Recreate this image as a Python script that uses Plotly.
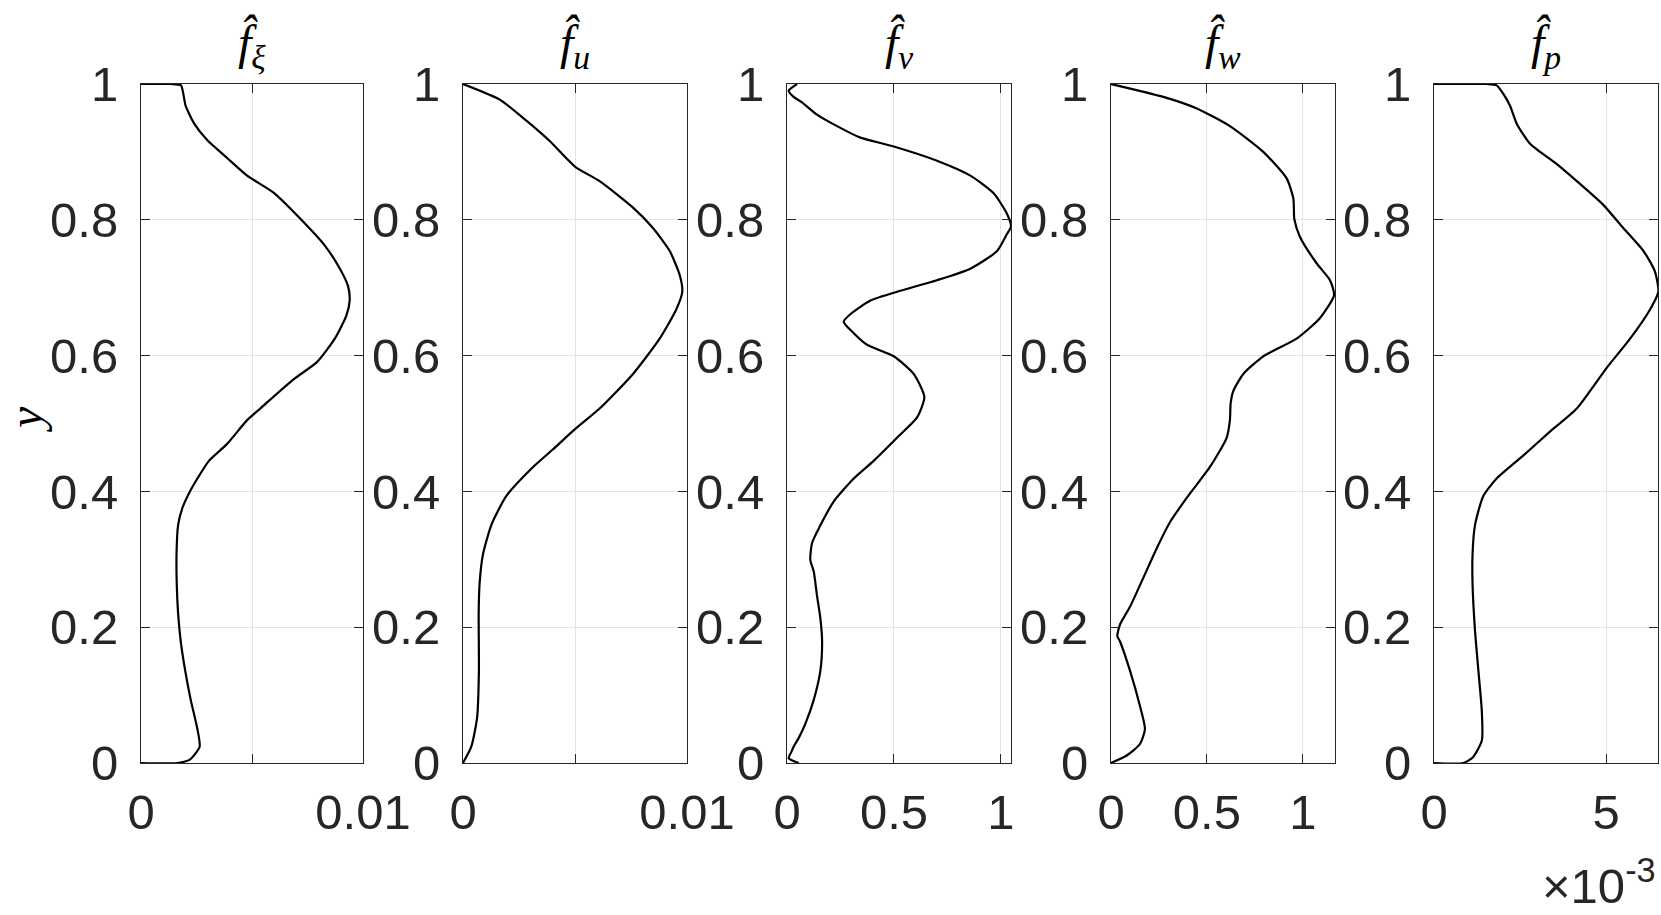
import plotly.graph_objects as go

# profiles, y from 0 (wall) to 1
y_xi = [0, 0, 0.005, 0.024, 0.05, 0.093, 0.136, 0.179, 0.221, 0.264, 0.307, 0.35, 0.376, 0.402, 0.419,
        0.445, 0.47, 0.505, 0.522, 0.565, 0.59, 0.625, 0.659, 0.681, 0.702, 0.728, 0.762, 0.797, 0.84,
        0.865, 0.891, 0.917, 0.942, 0.968, 0.985, 0.998, 1.0, 1.0]
f_xi = [0, 0.00164, 0.0022, 0.00264, 0.00254, 0.00224, 0.00199, 0.00179, 0.00167, 0.00161, 0.0016,
        0.00167, 0.00187, 0.00224, 0.00254, 0.00306, 0.00388, 0.00478, 0.00537, 0.00687, 0.00791,
        0.00873, 0.00925, 0.0094, 0.00933, 0.00896, 0.00828, 0.00731, 0.00597, 0.00478, 0.00388,
        0.00299, 0.00239, 0.00201, 0.00191, 0.0018, 0.00134, 0]

y_u = [0, 0.024, 0.067, 0.136, 0.221, 0.264, 0.307, 0.35, 0.393, 0.436, 0.462, 0.492, 0.522, 0.573,
       0.625, 0.668, 0.694, 0.719, 0.754, 0.788, 0.818, 0.857, 0.878, 0.916, 0.946, 0.977, 1.0]
f_u = [0, 0.00037, 0.00063, 0.00071, 0.0007, 0.00074, 0.00089, 0.00126, 0.00193, 0.00313, 0.00402,
       0.00501, 0.0061, 0.00759, 0.00878, 0.00952, 0.00979, 0.00967, 0.00923, 0.00848, 0.00759,
       0.0061, 0.00501, 0.00387, 0.00283, 0.00164, 0]

y_v = [0, 0.007, 0.016, 0.024, 0.037, 0.058, 0.093, 0.136, 0.179, 0.213, 0.247, 0.282, 0.299, 0.324,
       0.35, 0.385, 0.419, 0.445, 0.479, 0.509, 0.539, 0.573, 0.599, 0.616, 0.633, 0.65, 0.663, 0.681,
       0.694, 0.711, 0.728, 0.754, 0.779, 0.79, 0.809, 0.839, 0.865, 0.887, 0.908, 0.921, 0.938,
       0.955, 0.973, 0.981, 0.99, 1.0]
f_v = [0.055, 0.008, 0.02, 0.031, 0.055, 0.086, 0.125, 0.156, 0.164, 0.156, 0.14, 0.125, 0.109, 0.117,
       0.156, 0.218, 0.312, 0.405, 0.514, 0.608, 0.642, 0.592, 0.499, 0.374, 0.312, 0.265, 0.304, 0.39,
       0.514, 0.701, 0.857, 0.982, 1.028, 1.047, 1.028, 0.966, 0.857, 0.701, 0.499, 0.343, 0.234,
       0.14, 0.07, 0.031, 0.008, 0.047]

y_w = [0, 0.011, 0.028, 0.05, 0.084, 0.136, 0.179, 0.187, 0.204, 0.23, 0.273, 0.316, 0.355, 0.397,
       0.436, 0.479, 0.505, 0.53, 0.548, 0.573, 0.599, 0.625, 0.655, 0.689, 0.711, 0.736, 0.775,
       0.801, 0.831, 0.861, 0.9, 0.938, 0.964, 0.981, 1.0]
f_w = [0, 0.082, 0.151, 0.177, 0.151, 0.099, 0.047, 0.033, 0.047, 0.099, 0.169, 0.238, 0.308, 0.412,
       0.516, 0.603, 0.62, 0.624, 0.638, 0.69, 0.794, 0.968, 1.089, 1.163, 1.142, 1.072, 0.985,
       0.956, 0.951, 0.916, 0.794, 0.62, 0.447, 0.273, 0]

# f_p in units of 1e-3
y_p = [0, 0, 0.009, 0.033, 0.076, 0.136, 0.196, 0.264, 0.307, 0.35, 0.393, 0.419, 0.453, 0.488, 0.522,
       0.582, 0.625, 0.668, 0.694, 0.724, 0.754, 0.788, 0.822, 0.857, 0.882, 0.912, 0.942, 0.968,
       0.985, 0.998, 1.0, 1.0]
f_p = [0, 0.853, 1.14, 1.39, 1.39, 1.29, 1.19, 1.12, 1.12, 1.19, 1.43, 1.82, 2.6, 3.37, 4.15, 5.02,
       5.7, 6.28, 6.52, 6.42, 6.09, 5.5, 4.92, 4.15, 3.57, 2.79, 2.4, 2.21, 2.02, 1.82, 1.53, 0]

titles = ["ξ", "u", "v", "w", "p"]
xranges = [[0, 0.01], [0, 0.01], [0, 1.047], [0, 1.168], [0, 6.51]]
xticks = [[0, 0.005, 0.01], [0, 0.005, 0.01], [0, 0.5, 1], [0, 0.5, 1], [0, 5]]
xticklabels = [["0", "", "0.01"], ["0", "", "0.01"], ["0", "0.5", "1"], ["0", "0.5", "1"], ["0", "5"]]
yticks = [0, 0.2, 0.4, 0.6, 0.8, 1]
ytext = ["0", "0.2", "0.4", "0.6", "0.8", "1"]

W, H = 1661, 915
xdoms = [(141, 363), (463, 687), (787, 1011), (1111, 1335), (1434, 1658)]
ydom = [(915 - 763) / H, (915 - 84) / H]

axcol = "#262626"
tickfont = dict(family="Liberation Sans, Arial, sans-serif", size=49, color=axcol)
mathfont = dict(family="Liberation Serif, Times New Roman, serif", size=48, color="black")

fig = go.Figure()
series = [(f_xi, y_xi), (f_u, y_u), (f_v, y_v), (f_w, y_w), (f_p, y_p)]
for i, (fx, fy) in enumerate(series):
    n = "" if i == 0 else str(i + 1)
    fig.add_trace(go.Scatter(x=fx, y=fy, mode="lines", xaxis="x" + n, yaxis="y" + n,
                             line=dict(color="black", width=2.2, shape="spline", smoothing=0.6),
                             showlegend=False))
    common = dict(showline=True, linecolor=axcol, linewidth=1, mirror="ticks",
                  ticks="inside", ticklen=9, tickcolor=axcol, showgrid=True,
                  gridcolor="#e3e3e3", gridwidth=1, zeroline=False, tickfont=tickfont,
                  automargin=False)
    x0, x1 = xdoms[i]
    fig.layout["xaxis" + n] = dict(domain=[x0 / W, x1 / W], range=xranges[i],
                                   tickvals=xticks[i], ticktext=xticklabels[i],
                                   anchor="y" + n, ticklabelstandoff=6, **common)
    fig.layout["yaxis" + n] = dict(domain=ydom, range=[0, 1], tickvals=yticks, ticktext=ytext,
                                   anchor="x" + n, ticklabelstandoff=12, **common)
    fig.add_annotation(x=(x0 + x1) / 2 / W, y=ydom[1], xref="paper", yref="paper",
                       xanchor="center", yanchor="bottom", yshift=6, showarrow=False,
                       text="<i>f̂</i><sub><i>" + titles[i] + "</i></sub>", font=mathfont)

fig.add_annotation(x=26 / W, y=(915 - 420) / H, xref="paper", yref="paper",
                   xanchor="center", yanchor="middle",
                   text="<i>y</i>", textangle=-90, showarrow=False, font=mathfont)
fig.add_annotation(x=1658 / W, y=0, xref="paper", yref="paper", xanchor="right",
                   yanchor="bottom", text="×10<sup>-3</sup>", showarrow=False, font=tickfont)

fig.update_layout(width=W, height=H, margin=dict(l=0, r=0, t=0, b=0, autoexpand=False),
                  plot_bgcolor="white", paper_bgcolor="white")
# drop the default body margin so the figure sits flush with the window
fig.write_html("out.html", config={"displayModeBar": False},
               post_script="document.body.style.margin='0';document.body.style.overflow='hidden';")
